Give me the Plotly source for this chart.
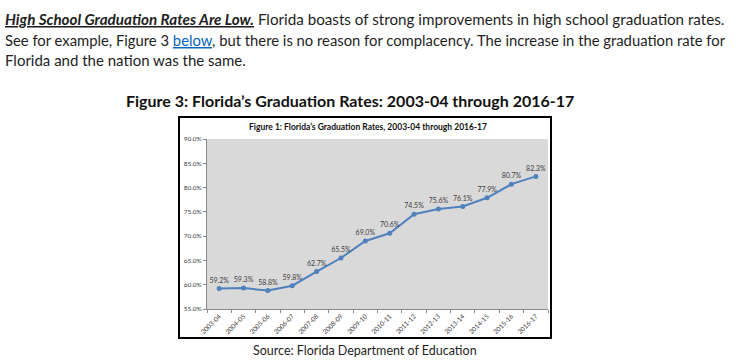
import plotly.graph_objects as go

years = ["2003-04", "2004-05", "2005-06", "2006-07", "2007-08", "2008-09", "2009-10",
         "2010-11", "2011-12", "2012-13", "2013-14", "2014-15", "2015-16", "2016-17"]
rates = [59.2, 59.3, 58.8, 59.8, 62.7, 65.5, 69.0, 70.6, 74.5, 75.6, 76.1, 77.9, 80.7, 82.3]
y_ticks = [55, 60, 65, 70, 75, 80, 85, 90]
y_ticktext = [f"{v:.1f}%" for v in y_ticks]

W, H = 746, 361
def px(x): return x / W
def py(y): return 1 - y / H

FONT = "Lato"
fig = go.Figure()
fig.add_trace(go.Scatter(
    x=years, y=rates, mode="lines+markers+text",
    line=dict(color="#4F81BD", width=2),
    marker=dict(color="#4F81BD", size=5),
    text=[f"{v:.1f}%" for v in rates], textposition="top center",
    textfont=dict(family=FONT, size=7, color="#404040"),
    cliponaxis=False, hoverinfo="skip"))

fig.update_layout(
    width=W, height=H, margin=dict(l=0, r=0, t=0, b=0),
    paper_bgcolor="white", plot_bgcolor="#D9D9D9", showlegend=False,
    xaxis=dict(domain=[px(207), px(548)], type="category", tickson="boundaries",
               ticks="outside", ticklen=3, tickcolor="#888888", tickangle=-45,
               tickfont=dict(family=FONT, size=6.5, color="#404040"),
               showline=True, linecolor="#888888", linewidth=1, showgrid=False,
               range=[-0.5, 13.5], fixedrange=True, automargin=False),
    yaxis=dict(domain=[py(309), py(139)], range=[55, 90], tickvals=y_ticks, ticktext=y_ticktext,
               ticks="outside", ticklen=3, tickcolor="#888888",
               tickfont=dict(family=FONT, size=6.5, color="#404040"),
               showline=True, linecolor="#888888", linewidth=1, showgrid=False,
               zeroline=False, fixedrange=True, automargin=False),
)

# chart border
fig.add_shape(type="rect", xref="paper", yref="paper", x0=px(179), x1=px(551), y0=py(338), y1=py(117),
              line=dict(color="black", width=2), fillcolor="rgba(0,0,0,0)", layer="below")

txt = "#1E1E1E"
ann = [
    dict(x=px(4), y=py(19), xanchor="left", yanchor="middle",
         text="<b><i><span style='text-decoration:underline'>High School Graduation Rates Are Low.</span></i></b> Florida boasts of strong improvements in high school graduation rates.",
         font=dict(family=FONT, size=15.2, color=txt)),
    dict(x=px(4), y=py(40), xanchor="left", yanchor="middle",
         text="See for example, Figure 3 <span style='color:#0563C1;text-decoration:underline'>below</span>, but there is no reason for complacency. The increase in the graduation rate for",
         font=dict(family=FONT, size=14.8, color=txt)),
    dict(x=px(4), y=py(60), xanchor="left", yanchor="middle",
         text="Florida and the nation was the same.",
         font=dict(family=FONT, size=15.0, color=txt)),
    dict(x=px(350), y=py(100), xanchor="center", yanchor="middle",
         text="<b>Figure 3: Florida’s Graduation Rates: 2003-04 through 2016-17</b>",
         font=dict(family=FONT, size=16.0, color="#111111")),
    dict(x=px(368), y=py(127), xanchor="center", yanchor="middle",
         text="<b>Figure 1: Florida’s Graduation Rates, 2003-04 through 2016-17</b>",
         font=dict(family=FONT, size=8.5, color="#111111")),
    dict(x=px(365), y=py(350), xanchor="center", yanchor="middle",
         text="Source: Florida Department of Education",
         font=dict(family=FONT, size=12.5, color=txt)),
]
for a in ann:
    a.update(xref="paper", yref="paper", showarrow=False, borderpad=0)
    fig.add_annotation(**a)

fig.write_html("out.html", config={"displayModeBar": False},
               post_script="document.body.style.margin='0';document.body.style.overflow='hidden';")
